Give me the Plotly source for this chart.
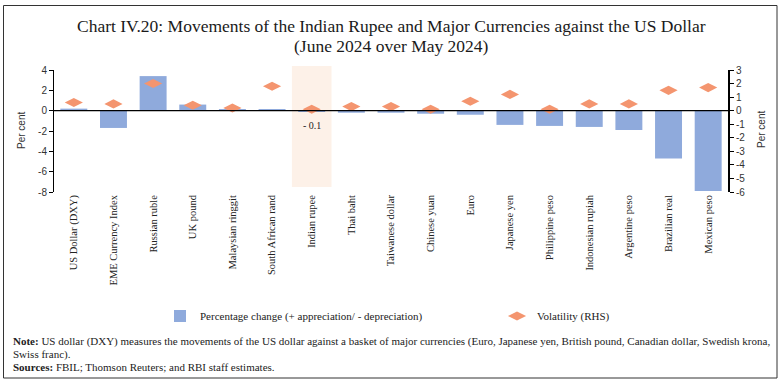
import plotly.graph_objects as go

categories = ["US Dollar (DXY)", "EME Currency Index", "Russian ruble", "UK pound",
              "Malaysian ringgit", "South African rand", "Indian rupee", "Thai baht",
              "Taiwanese dollar", "Chinese yuan", "Euro", "Japanese yen",
              "Philippine peso", "Indonesian rupiah", "Argentine peso",
              "Brazilian real", "Mexican peso"]
pct_change = [0.2, -1.7, 3.4, 0.6, 0.1, 0.1, -0.1, -0.2, -0.2, -0.3, -0.4,
              -1.4, -1.5, -1.6, -1.9, -4.7, -7.9]
volatility = [0.6, 0.5, 2.0, 0.4, 0.2, 1.8, 0.1, 0.3, 0.3, 0.1, 0.7, 1.2,
              0.1, 0.5, 0.5, 1.5, 1.7]
left_ticks = [4, 2, 0, -2, -4, -6, -8]
right_ticks = [3, 2, 1, 0, -1, -2, -3, -4, -5, -6]
highlight = "Indian rupee"

W, H = 783, 385
ML, MR, MT, MB = 54, 783 - 728, 70, 385 - 192

SERIF = "Liberation Serif"
SANS = "Liberation Sans"


def px_x(px):
    return (px - ML) / (W - ML - MR)


def px_y(py):
    return (H - MB - py) / (H - MT - MB)


def hy(v):
    return str(v).replace("\u2212", "-")


fig = go.Figure()
fig.add_trace(go.Bar(
    x=categories, y=pct_change, name="Percentage change (+ appreciation/ - depreciation)",
    marker=dict(color="#8faadc", line=dict(width=0)), width=0.68, yaxis="y",
    legend="legend"))
fig.add_trace(go.Scatter(
    x=categories, y=volatility, name="Volatility (RHS)", mode="markers",
    marker=dict(symbol="diamond-wide", size=13, color="#f4956f", line=dict(width=0)),
    yaxis="y2", legend="legend2"))

hi = categories.index(highlight)
fig.add_shape(type="rect", xref="x", yref="paper", x0=hi - 0.5, x1=hi + 0.5,
              y0=px_y(187), y1=px_y(66),
              fillcolor="#fdf1e8", line=dict(width=0), layer="below")
fig.add_shape(type="line", xref="paper", yref="y", x0=0, x1=1, y0=0, y1=0,
              line=dict(color="black", width=1.2))
fig.add_annotation(x=highlight, y=-1.5, xref="x", yref="y",
                   text=f"- {abs(pct_change[hi])}", showarrow=False,
                   font=dict(family=SERIF, size=10, color="#222"))

# frame
fig.add_shape(type="rect", xref="paper", yref="paper",
              x0=px_x(3.5), x1=px_x(777), y0=px_y(378), y1=px_y(5.5),
              line=dict(color="#333", width=1))

title_font = dict(family=SERIF, size=17.5, color="#1a1a1a")
fig.add_annotation(xref="paper", yref="paper", x=px_x(391), y=px_y(26),
                   xanchor="center", yanchor="middle",
                   text="Chart IV.20: Movements of the Indian Rupee and Major Currencies against the US Dollar",
                   showarrow=False, font=title_font)
fig.add_annotation(xref="paper", yref="paper", x=px_x(391), y=px_y(46),
                   xanchor="center", yanchor="middle",
                   text="(June 2024 over May 2024)", showarrow=False, font=title_font)
fig.add_annotation(xref="paper", yref="paper", x=px_x(21), y=px_y(131), textangle=-90,
                   xanchor="center", yanchor="middle",
                   text="Per cent", showarrow=False, font=dict(family=SANS, size=10, color="#333"))
fig.add_annotation(xref="paper", yref="paper", x=px_x(761), y=px_y(130), textangle=-90,
                   xanchor="center", yanchor="middle",
                   text="Per cent", showarrow=False, font=dict(family=SANS, size=10, color="#333"))

note_font = dict(family=SERIF, size=11, color="#222")
fig.add_annotation(xref="paper", yref="paper", x=px_x(11), y=px_y(341), xanchor="left",
                   yanchor="middle", align="left", showarrow=False, font=note_font,
                   text="<b>Note:</b> US dollar (DXY) measures the movements of the US dollar against a basket of major currencies (Euro, Japanese yen, British pound, Canadian dollar, Swedish krona,")
fig.add_annotation(xref="paper", yref="paper", x=px_x(11), y=px_y(354), xanchor="left",
                   yanchor="middle", align="left", showarrow=False, font=note_font,
                   text="Swiss franc).")
fig.add_annotation(xref="paper", yref="paper", x=px_x(11), y=px_y(367), xanchor="left",
                   yanchor="middle", align="left", showarrow=False, font=note_font,
                   text="<b>Sources:</b> FBIL; Thomson Reuters; and RBI staff estimates.")

leg_font = dict(family=SERIF, size=11, color="#222")
fig.update_layout(
    width=W, height=H, margin=dict(l=ML, r=MR, t=MT, b=MB, autoexpand=False),
    paper_bgcolor="white", plot_bgcolor="white",
    showlegend=True,
    legend=dict(orientation="h", x=px_x(160), y=px_y(316), xanchor="left", yanchor="middle",
                font=leg_font, bgcolor="rgba(0,0,0,0)", itemwidth=30),
    legend2=dict(orientation="h", x=px_x(497), y=px_y(316), xanchor="left", yanchor="middle",
                 font=leg_font, bgcolor="rgba(0,0,0,0)", itemwidth=30),
    xaxis=dict(type="category", tickangle=-90, showline=False, showgrid=False, ticks="",
               tickfont=dict(family=SERIF, size=10.5, color="#222"), range=[-0.5, 16.5]),
    yaxis=dict(range=[-8, 4], tickvals=left_ticks, ticktext=[hy(v) for v in left_ticks],
               showgrid=False, zeroline=False,
               showline=True, linecolor="black", linewidth=1, ticks="outside", ticklen=4,
               tickcolor="black", tickfont=dict(family=SANS, size=10, color="#333")),
    yaxis2=dict(range=[-6, 3], tickvals=right_ticks, ticktext=[hy(v) for v in right_ticks],
                overlaying="y", side="right",
                showgrid=False, zeroline=False, showline=True, linecolor="black", linewidth=2,
                ticks="outside", ticklen=4, tickcolor="black",
                tickfont=dict(family=SANS, size=10, color="#333")),
)

fig.write_html("out.html", config={"displayModeBar": False},
               post_script="document.body.style.margin='0';document.body.style.overflow='hidden';")
